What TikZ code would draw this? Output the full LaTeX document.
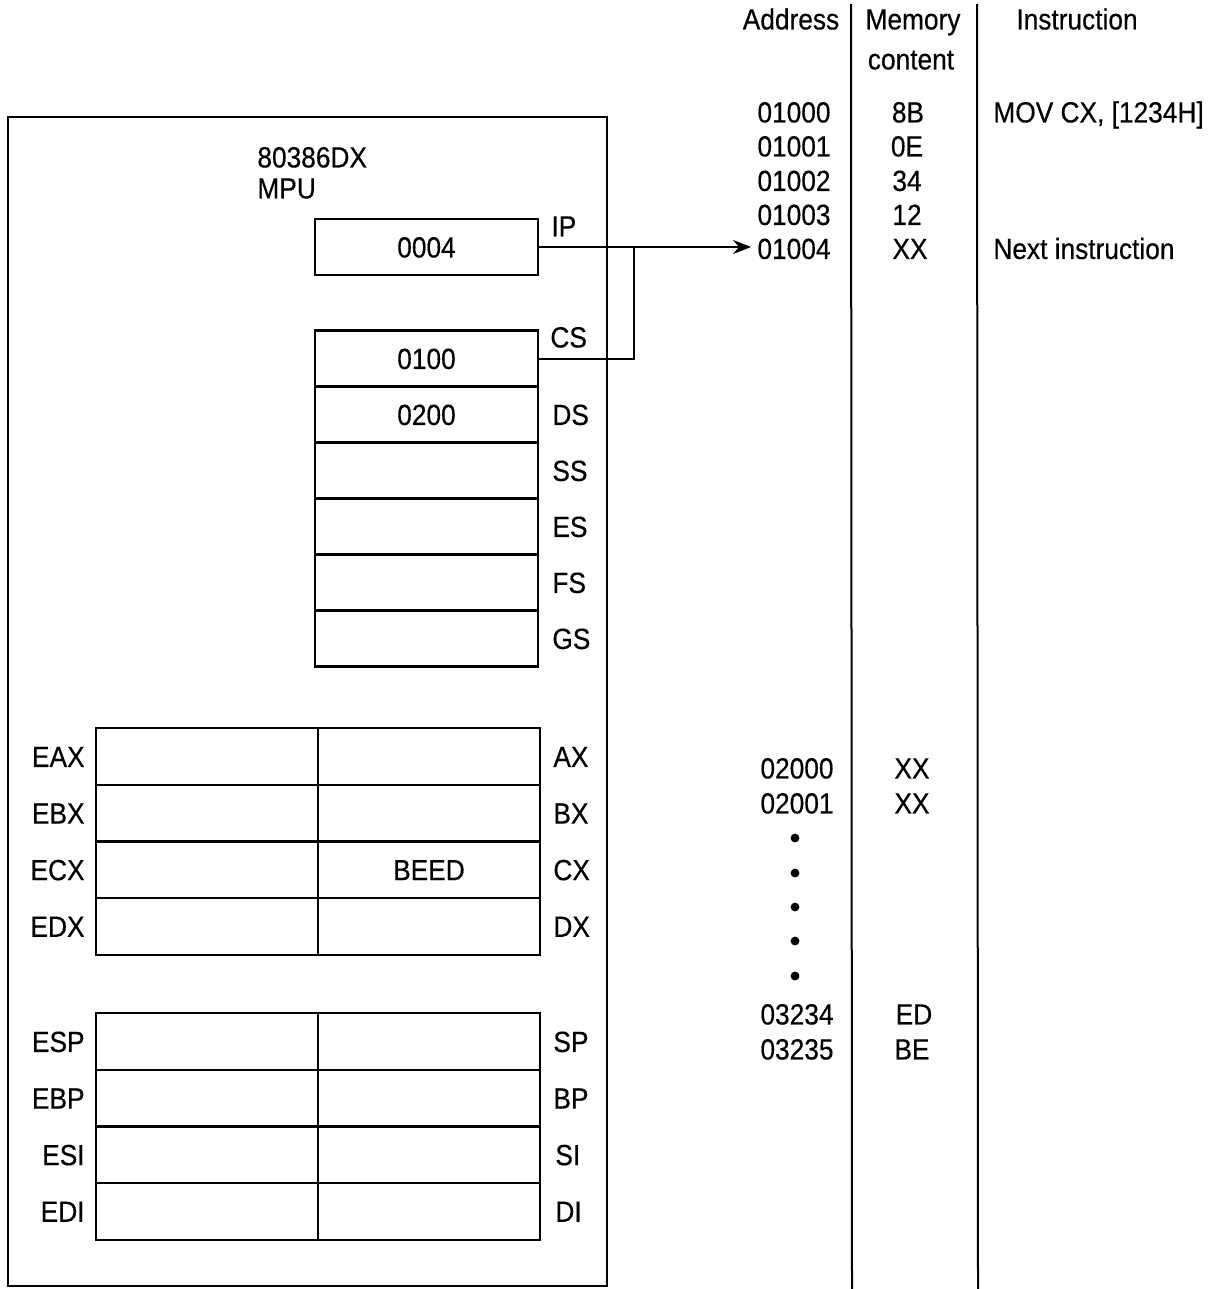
\documentclass[tikz,border=0pt]{standalone}
\usepackage{fontspec}
\setmainfont{Liberation Sans}[FakeStretch=0.9]
\setsansfont{Liberation Sans}[FakeStretch=0.9, FakeBold=0.4]
\usetikzlibrary{positioning,arrows.meta}

\begin{document}
\begin{tikzpicture}[
    x=0.5pt, y=-0.5pt,
    every node/.style={font=\sffamily\fontsize{14.6}{17}\selectfont},
    txt/.style = {inner sep=0pt, text height=10.45pt, text depth=0pt},
    base/.style = {rectangle, draw=black, line width=1.1pt, outer sep=0pt,
minimum height=28pt, text centered, txt},
    segreg/.style = {base, minimum width=111.5pt},
    halfreg/.style = {base, minimum width=111pt, minimum height=28.3pt},
    regname/.style = {txt},
    addr/.style = {txt},
    cell/.style = {txt},
    instr/.style = {txt, anchor=west},
    dot/.style = {circle, fill=black, inner sep=0pt, minimum size=4.4pt},
    rule/.style = {line width=1pt}
]
  \useasboundingbox (0,0) rectangle (1217,1289);

  % processor
  \draw[line width=1.1pt] (8,117) rectangle (607,1286);
  \node (cpu) [txt, anchor=west] at (257,157) {80386DX};
  \node (mpu) [txt, anchor=west] at (257,188) {MPU};

  % instruction pointer and segment registers
  \node (ip) [segreg] at (426.5,247) {0004};
  \node (cs) [segreg] at (426.5,358.5) {0100};
  \node (ds) [segreg, below=0pt of cs] {0200};
  \node (ss) [segreg, below=0pt of ds] {};
  \node (es) [segreg, below=0pt of ss] {};
  \node (fs) [segreg, below=0pt of es] {};
  \node (gs) [segreg, below=0pt of fs] {};

  \node (ipname) [regname, right=6.5pt of ip.east, yshift=10.5pt] {IP};
  \node (csname) [regname, right=6pt of cs.east, yshift=10.75pt] {CS};
  \node (dsname) [regname, right=7pt of ds] {DS};
  \node (ssname) [regname, right=7pt of ss] {SS};
  \node (esname) [regname, right=7pt of es] {ES};
  \node (fsname) [regname, right=7pt of fs] {FS};
  \node (gsname) [regname, right=7pt of gs] {GS};

  % data registers
  \node (ax)   [halfreg] at (429,756.5) {};
  \node (eaxh) [halfreg, left=0pt of ax] {};
  \node (bx)   [halfreg, below=0pt of ax] {};
  \node (ebxh) [halfreg, left=0pt of bx] {};
  \node (cx)   [halfreg, below=0pt of bx] {BEED};
  \node (ecxh) [halfreg, left=0pt of cx] {};
  \node (dx)   [halfreg, below=0pt of cx] {};
  \node (edxh) [halfreg, left=0pt of dx] {};

  \node (axname)  [regname, right=6.5pt of ax] {AX};
  \node (bxname)  [regname, right=6.5pt of bx] {BX};
  \node (cxname)  [regname, right=6.5pt of cx] {CX};
  \node (dxname)  [regname, right=6.5pt of dx] {DX};
  \node (eaxname) [regname, left=5.5pt of eaxh] {EAX};
  \node (ebxname) [regname, left=5.5pt of ebxh] {EBX};
  \node (ecxname) [regname, left=5.5pt of ecxh] {ECX};
  \node (edxname) [regname, left=5.5pt of edxh] {EDX};

  % pointer and index registers
  \node (sp)   [halfreg] at (429,1041.5) {};
  \node (esph) [halfreg, left=0pt of sp] {};
  \node (bp)   [halfreg, below=0pt of sp] {};
  \node (ebph) [halfreg, left=0pt of bp] {};
  \node (si)   [halfreg, below=0pt of bp] {};
  \node (esih) [halfreg, left=0pt of si] {};
  \node (di)   [halfreg, below=0pt of si] {};
  \node (edih) [halfreg, left=0pt of di] {};

  \node (spname)  [regname, right=6.5pt of sp] {SP};
  \node (bpname)  [regname, right=6.5pt of bp] {BP};
  \node (siname)  [regname, right=7.5pt of si] {SI};
  \node (diname)  [regname, right=7.5pt of di] {DI};
  \node (espname) [regname, left=5.5pt of esph] {ESP};
  \node (ebpname) [regname, left=5.5pt of ebph] {EBP};
  \node (esiname) [regname, left=5.5pt of esih] {ESI};
  \node (ediname) [regname, left=5.5pt of edih] {EDI};

  % memory table
  \node (haddr)  [txt] at (791,19) {Address};
  \node (hmem)   [txt] at (913,19) {Memory};
  \node (hcont)  [txt] at (911,59) {content};
  \node (hinstr) [txt] at (1077,19) {Instruction};
  \draw[rule] (851,4) -- (852,1289);
  \draw[rule] (977,4) -- (978,1289);

  \node (a01000) [addr] at (794,112) {01000};
  \node (m01000) [cell] at (908,112) {8B};
  \node (i01000) [instr] at (993,112) {MOV CX, [1234H]};
  \node (a01001) [addr] at (794,146) {01001};
  \node (m01001) [cell] at (907,146) {0E};
  \node (a01002) [addr] at (794,180.5) {01002};
  \node (m01002) [cell] at (907,180.5) {34};
  \node (a01003) [addr] at (794,214.5) {01003};
  \node (m01003) [cell] at (907,214.5) {12};
  \node (a01004) [addr] at (794,248.5) {01004};
  \node (m01004) [cell] at (910,248.5) {XX};
  \node (i01004) [instr] at (993,248.5) {Next instruction};

  \node (a02000) [addr] at (797,768) {02000};
  \node (m02000) [cell] at (912,768) {XX};
  \node (a02001) [addr] at (797,803) {02001};
  \node (m02001) [cell] at (912,803) {XX};
  \node (dot1) [dot] at (795,838) {};
  \node (dot2) [dot] at (795,873) {};
  \node (dot3) [dot] at (795,907) {};
  \node (dot4) [dot] at (795,941) {};
  \node (dot5) [dot] at (795,976) {};
  \node (a03234) [addr] at (797,1014) {03234};
  \node (m03234) [cell] at (914,1014) {ED};
  \node (a03235) [addr] at (797,1049) {03235};
  \node (m03235) [cell] at (912,1049) {BE};

  % CS:IP points at the next instruction
  \coordinate (csjoin) at (634,247);
  \draw[line width=1pt, -{Stealth[length=9pt,width=7pt]}, shorten >=3pt]
      (ip.east) -- (ip.east -| a01004.west);
  \draw[line width=1pt] (cs.east) -| (csjoin);

\end{tikzpicture}
\end{document}
